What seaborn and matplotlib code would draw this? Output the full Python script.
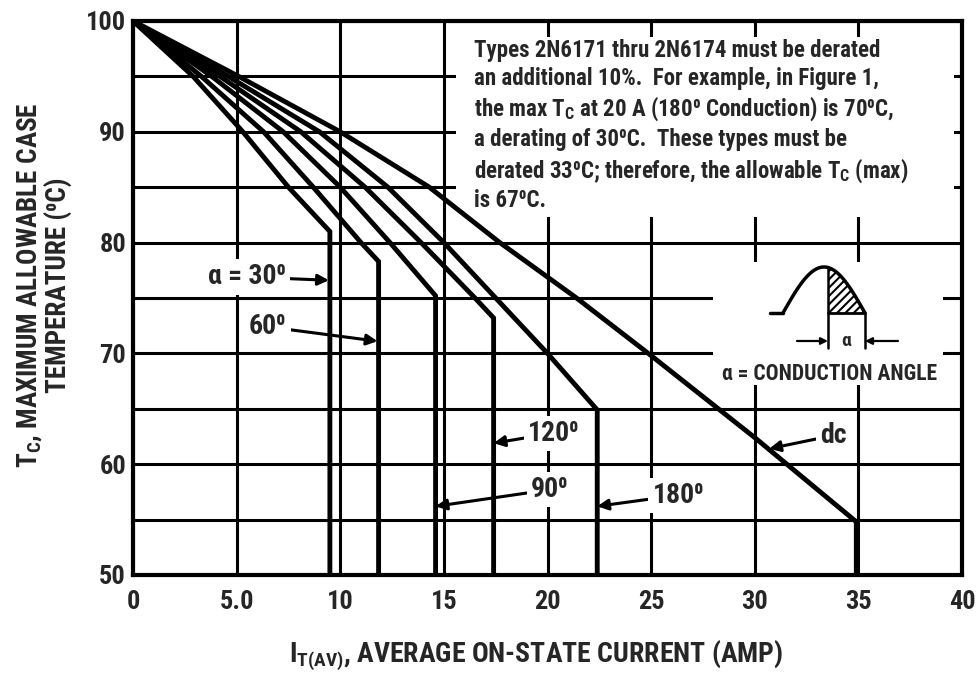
import numpy as np
import pandas as pd
import seaborn as sns
import matplotlib.pyplot as plt
from matplotlib import font_manager
from matplotlib.patches import Rectangle

# Courbes : courant moyen (A) et temperature de boitier max (C)
deg30_i = [0, 2.9, 5.3, 7.5, 9.5, 9.5]
deg30_t = [100, 95, 90, 85, 81.0, 50]
deg60_i = [0, 3.3, 6.3, 8.7, 11.0, 11.85, 11.85]
deg60_t = [100, 95, 90, 85, 80, 78.3, 50]
deg90_i = [0, 3.8, 7.25, 10.0, 12.4, 14.6, 14.6]
deg90_t = [100, 95, 90, 85, 80, 75.2, 50]
deg120_i = [0, 4.2, 8.1, 11.2, 13.9, 16.5, 17.4, 17.4]
deg120_t = [100, 95, 90, 85, 80, 75, 73.2, 50]
deg180_i = [0, 4.6, 9.0, 12.3, 15.0, 17.5, 20.0, 22.4, 22.4]
deg180_t = [100, 95, 90, 85, 80, 75, 70, 64.9, 50]
dc_i = [0, 5.1, 10.0, 14.3, 17.7, 21.4, 25.0, 30.0, 34.9, 34.9]
dc_t = [100, 95, 90, 85, 80, 75, 69.8, 62.4, 54.8, 50]

x_ticks = [0, 5, 10, 15, 20, 25, 30, 35, 40]
x_ticklabels = ['0', '5.0', '10', '15', '20', '25', '30', '35', '40']
y_ticks = [50, 60, 70, 80, 90, 100]

curves = [('30', deg30_i, deg30_t), ('60', deg60_i, deg60_t), ('90', deg90_i, deg90_t),
          ('120', deg120_i, deg120_t), ('180', deg180_i, deg180_t), ('dc', dc_i, dc_t)]

sns.set_theme(style='white')

# police etroite si possible
avail = {f.name for f in font_manager.fontManager.ttflist}
narrow = next((n for n in ['Liberation Sans Narrow', 'Roboto Condensed', 'Open Sans Condensed']
               if n in avail), None)
if narrow:
    fam = [narrow, 'DejaVu Sans']
    k = 1.0
else:
    fam = ['Liberation Sans', 'DejaVu Sans']
    k = 0.8
plt.rcParams['font.family'] = fam
plt.rcParams['font.weight'] = 'bold'
plt.rcParams['mathtext.default'] = 'regular'
plt.rcParams['hatch.linewidth'] = 1.5

fig, ax = plt.subplots(figsize=(9.77, 6.75), dpi=100)
fig.subplots_adjust(left=133/977, right=962/977, bottom=1-575/675, top=1-21/675)

for name, xs, ys in curves:
    df = pd.DataFrame({'I': xs, 'T': ys})
    sns.lineplot(data=df, x='I', y='T', sort=False, estimator=None, color='black',
                 lw=3.5, ax=ax, zorder=3, solid_joinstyle='miter')

ax.set_xlim(0, 40)
ax.set_ylim(50, 100)
ax.set_xticks(x_ticks)
ax.set_xticklabels(x_ticklabels)
ax.set_yticks(y_ticks)
ax.set_yticks([55, 65, 75, 85, 95], minor=True)
ax.tick_params(which='both', length=0)
ax.tick_params(axis='x', pad=11, labelsize=19*k)
ax.tick_params(axis='y', pad=5, labelsize=19*k)
ax.grid(which='both', color='black', lw=2.2)
ax.set_axisbelow(True)
for s in ax.spines.values():
    s.set_color('black')
    s.set_linewidth(3)
ax.set_xlabel('')
ax.set_ylabel('')

# zones blanches (encadre de texte et schema)
ax.add_patch(Rectangle((0.390, 0.646), 0.600, 0.325, transform=ax.transAxes,
                       facecolor='white', edgecolor='none', zorder=1))
ax.add_patch(Rectangle((0.700, 0.343), 0.277, 0.222, transform=ax.transAxes,
                       facecolor='white', edgecolor='none', zorder=1))

note = ("Types 2N6171 thru 2N6174 must be derated\n"
        "an additional 10%.  For example, in Figure 1,\n"
        "the max T$_C$ at 20 A (180⁰ Conduction) is 70⁰C,\n"
        "a derating of 30⁰C.  These types must be\n"
        "derated 33⁰C; therefore, the allowable T$_C$ (max)\n"
        "is 67⁰C.")
ax.text(0.411, 0.967, note, transform=ax.transAxes, ha='left', va='top',
        fontsize=16.5*k, linespacing=1.24, zorder=4)

# etiquettes avec fleches
ann = [('α = 30⁰', (5.5, 76.9), (9.45, 76.6)),
       ('60⁰', (6.5, 72.4), (11.8, 71.1)),
       ('120⁰', (20.3, 62.8), (17.4, 61.9)),
       ('90⁰', (20.1, 57.7), (14.6, 56.2)),
       ('180⁰', (26.3, 57.2), (22.4, 56.2)),
       ('dc', (33.8, 62.6), (30.7, 61.4))]
for lab, txy, pxy in ann:
    ax.annotate(lab, xy=pxy, xytext=txy, ha='center', va='center', fontsize=20*k,
                bbox=dict(boxstyle='square,pad=0.15', fc='white', ec='none'),
                arrowprops=dict(arrowstyle='-|>', color='black', lw=2.2,
                                mutation_scale=16, shrinkA=0, shrinkB=0),
                zorder=4)

# schema de l'angle de conduction (coordonnees en pixels de la figure)
axi = fig.add_axes([713/977, 1-385/675, 230/977, 123/675])
axi.set_xlim(713, 943)
axi.set_ylim(385, 262)
axi.axis('off')
xs = np.linspace(783, 865, 100)
ys = 313 - 46*np.sin(np.pi*(xs-783)/82)
axi.plot([770, 783], [313, 313], color='black', lw=2.5)
axi.plot(xs, ys, color='black', lw=2.5)
m = xs >= 828
axi.fill_between(xs[m], ys[m], 313, facecolor='white', edgecolor='black', hatch='////', lw=0)
axi.plot([828, 865], [313, 313], color='black', lw=2)
axi.plot([828, 828], [267, 348], color='black', lw=1.8)
axi.plot([865, 865], [313, 348], color='black', lw=1.8)
axi.annotate('', xy=(828, 341), xytext=(797, 341),
             arrowprops=dict(arrowstyle='-|>', color='black', lw=1.6, mutation_scale=10,
                             shrinkA=0, shrinkB=0))
axi.annotate('', xy=(865, 341), xytext=(898, 341),
             arrowprops=dict(arrowstyle='-|>', color='black', lw=1.6, mutation_scale=10,
                             shrinkA=0, shrinkB=0))
axi.text(846, 341, 'α', ha='center', va='center', fontsize=14*k)
axi.text(830, 374, 'α = CONDUCTION ANGLE', ha='center', va='center', fontsize=15.5*k)

fig.text(44/977, 1-285/675, 'T$_C$, MAXIMUM ALLOWABLE CASE\nTEMPERATURE (⁰C)',
         rotation=90, ha='center', va='center', fontsize=19.5*k, linespacing=1.05)
fig.text(536/977, 1-655/675, 'I$_{T(AV)}$, AVERAGE ON-STATE CURRENT (AMP)',
         ha='center', va='center', fontsize=20*k)

plt.savefig('out.png', dpi=100)
